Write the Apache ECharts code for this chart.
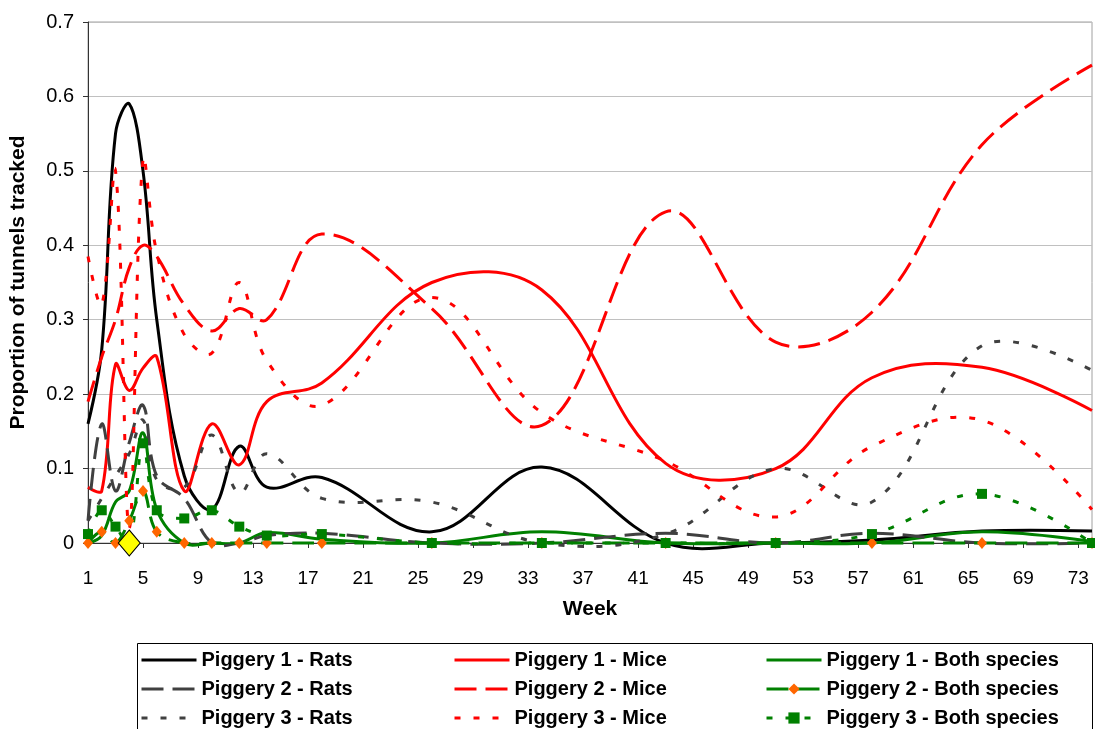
<!DOCTYPE html>
<html>
<head>
<meta charset="utf-8">
<script src="https://cdn.jsdelivr.net/npm/echarts@6/dist/echarts.min.js"></script>
<style>
html, body { margin: 0; padding: 0; background: #fff; }
#chart { width: 1095px; height: 729px; }
</style>
</head>
<body>
<div id="chart"></div>
<script>
// survey weeks that carry a reading
const weeks = [1, 2, 3, 4, 5, 6, 8, 10, 12, 14, 18, 26, 34, 43, 51, 58, 66, 74]
// x axis categories 1..74
const weekLabels = Array.from({ length: 74 }, (_, i) => String(i + 1))
const yTicks = [0, 0.1, 0.2, 0.3, 0.4, 0.5, 0.6, 0.7]

const p1Rats = [0.16, 0.26, 0.55, 0.59, 0.5, 0.3, 0.09, 0.045, 0.13, 0.075, 0.088, 0.015, 0.102, 0, 0, 0.004, 0.016, 0.016]
const p1Mice = [0.075, 0.07, 0.24, 0.205, 0.235, 0.25, 0.07, 0.16, 0.105, 0.19, 0.215, 0.35, 0.34, 0.107, 0.1, 0.222, 0.236, 0.178]
const p1Both = [0, 0.01, 0.055, 0.07, 0.148, 0.045, 0, 0, 0, 0.014, 0.005, 0, 0.015, 0, 0, 0, 0.015, 0.002]
const p2Rats = [0.03, 0.16, 0.07, 0.135, 0.185, 0.09, 0.06, 0, 0, 0.01, 0.013, 0, 0, 0.013, 0, 0.013, 0, 0]
const p2Mice = [0.19, 0.25, 0.3, 0.37, 0.4, 0.385, 0.32, 0.285, 0.315, 0.3, 0.415, 0.315, 0.158, 0.445, 0.27, 0.31, 0.535, 0.642]
const p2Both = [0, 0.015, 0, 0.03, 0.07, 0.015, 0, 0, 0, 0, 0, 0, 0, 0, 0, 0, 0, 0]
const p3Rats = [0.03, 0.06, 0.09, 0.12, 0.165, 0.085, 0.075, 0.145, 0.067, 0.12, 0.06, 0.055, 0, 0.012, 0.1, 0.055, 0.265, 0.232]
const p3Mice = [0.385, 0.32, 0.5, 0.02, 0.515, 0.39, 0.28, 0.255, 0.35, 0.245, 0.185, 0.33, 0.175, 0.11, 0.035, 0.13, 0.165, 0.045]
const p3Both = [0.012, 0.044, 0.022, 0, 0.134, 0.044, 0.033, 0.044, 0.022, 0.01, 0.012, 0, 0, 0, 0, 0.012, 0.066, 0]
// the one point drawn as a big yellow diamond (Piggery 3 - Both species)
const highlightWeek = 4

const FONT = 'Liberation Sans, Arial, sans-serif'
const LONG_DASH = [22, 9]
const DOTS = [6, 13]
// excel style smoothing: bezier through the points, overshoot allowed
const SMOOTH = 0.38

// spread the readings over the 74 week categories, nulls in between
function fill(values, special) {
    const arr = weekLabels.map(() => null)
    weeks.forEach((w, i) => {
        arr[w - 1] = values[i]
        if (special && w === special.week) {
            arr[w - 1] = Object.assign({ value: values[i] }, special.item)
        }
    })
    return arr
}

// the curve itself, drawn from the axis scales with api.coord
function curve(values, color, type) {
    return {
        type: 'custom',
        coordinateSystem: 'cartesian2d',
        silent: true,
        z: 2,
        data: [[0, 0]],
        renderItem: (params, api) => ({
            type: 'polyline',
            shape: {
                points: weeks.map((w, i) => api.coord([w - 1, values[i]])),
                smooth: SMOOTH
            },
            style: {
                stroke: color,
                lineWidth: 3,
                fill: null,
                lineDash: type === 'solid' ? null : type
            }
        })
    }
}

// legend entry + markers; its own line is hidden, the curve above draws it
function line(name, values, color, type, extra) {
    return Object.assign({
        name: name,
        type: 'line',
        z: 3,
        data: fill(values, extra && extra.special),
        connectNulls: true,
        symbol: 'none',
        showAllSymbol: true,
        lineStyle: { color: color, width: 3, type: type, opacity: 0 },
        itemStyle: { color: color },
        emphasis: { disabled: true }
    }, extra ? extra.opts : {})
}

const defs = [
    ['Piggery 1 - Rats', p1Rats, '#000000', 'solid'],
    ['Piggery 1 - Mice', p1Mice, '#ff0000', 'solid'],
    ['Piggery 1 - Both species', p1Both, '#008000', 'solid'],
    ['Piggery 2 - Rats', p2Rats, '#404040', LONG_DASH],
    ['Piggery 2 - Mice', p2Mice, '#ff0000', LONG_DASH],
    ['Piggery 2 - Both species', p2Both, '#008000', LONG_DASH, {
        opts: { symbol: 'diamond', symbolSize: [10, 12], itemStyle: { color: '#ff6600' } }
    }],
    ['Piggery 3 - Rats', p3Rats, '#404040', DOTS],
    ['Piggery 3 - Mice', p3Mice, '#ff0000', DOTS],
    ['Piggery 3 - Both species', p3Both, '#008000', DOTS, {
        opts: { symbol: 'rect', symbolSize: 10 },
        special: {
            week: highlightWeek,
            item: {
                symbol: 'diamond',
                symbolSize: [22, 26],
                itemStyle: { color: '#ffff00', borderColor: '#000', borderWidth: 1 }
            }
        }
    }]
]

const series = []
defs.forEach(d => series.push(curve(d[1], d[2], d[3])))
defs.forEach(d => series.push(line(d[0], d[1], d[2], d[3], d[4])))

const withMarker = ['Piggery 2 - Both species', 'Piggery 3 - Both species']

function legendCol(left, names) {
    return {
        orient: 'vertical',
        left: left,
        top: 650,
        height: 100,
        padding: 0,
        itemWidth: 55,
        itemHeight: 14,
        itemGap: 9,
        selectedMode: false,
        lineStyle: { opacity: 1, width: 3 },
        data: names.map(n => withMarker.includes(n) ? { name: n } : { name: n, itemStyle: { opacity: 0 } }),
        textStyle: { fontFamily: FONT, fontSize: 20, fontWeight: 'bold', color: '#000', lineHeight: 20 }
    }
}

const chart = echarts.init(document.getElementById('chart'))
chart.setOption({
    animation: false,
    backgroundColor: '#fff',
    grid: {
        left: 87,
        right: 3,
        top: 22,
        bottom: 186,
        show: true,
        borderColor: '#a0a0a0',
        borderWidth: 1
    },
    xAxis: {
        type: 'category',
        data: weekLabels,
        boundaryGap: false,
        name: 'Week',
        nameLocation: 'middle',
        nameGap: 56,
        nameTextStyle: { fontFamily: FONT, fontSize: 21, fontWeight: 'bold', color: '#000' },
        axisLine: { lineStyle: { color: '#333', width: 1 } },
        axisTick: { interval: 3, length: 5, lineStyle: { color: '#333' } },
        axisLabel: { interval: 3, margin: 26, fontFamily: FONT, fontSize: 19, color: '#000' },
        splitLine: { show: false }
    },
    yAxis: {
        type: 'value',
        min: yTicks[0],
        max: yTicks[yTicks.length - 1],
        interval: 0.1,
        name: 'Proportion of tunnels tracked',
        nameLocation: 'middle',
        nameGap: 59,
        nameTextStyle: { fontFamily: FONT, fontSize: 21, fontWeight: 'bold', color: '#000' },
        axisLine: { show: true, lineStyle: { color: '#333', width: 1 } },
        axisTick: { show: true, length: 5, lineStyle: { color: '#333' } },
        axisLabel: { margin: 14, fontFamily: FONT, fontSize: 20, color: '#000' },
        splitLine: { lineStyle: { color: '#c0c0c0', width: 1 } }
    },
    legend: [
        legendCol(140, ['Piggery 1 - Rats', 'Piggery 2 - Rats', 'Piggery 3 - Rats']),
        legendCol(453, ['Piggery 1 - Mice', 'Piggery 2 - Mice', 'Piggery 3 - Mice']),
        legendCol(765, ['Piggery 1 - Both species', 'Piggery 2 - Both species', 'Piggery 3 - Both species'])
    ],
    graphic: [{
        type: 'rect',
        left: 135,
        top: 641,
        shape: { width: 955, height: 120 },
        style: { fill: 'none', stroke: '#000', lineWidth: 1 }
    }],
    series: series
})
</script>
</body>
</html>
